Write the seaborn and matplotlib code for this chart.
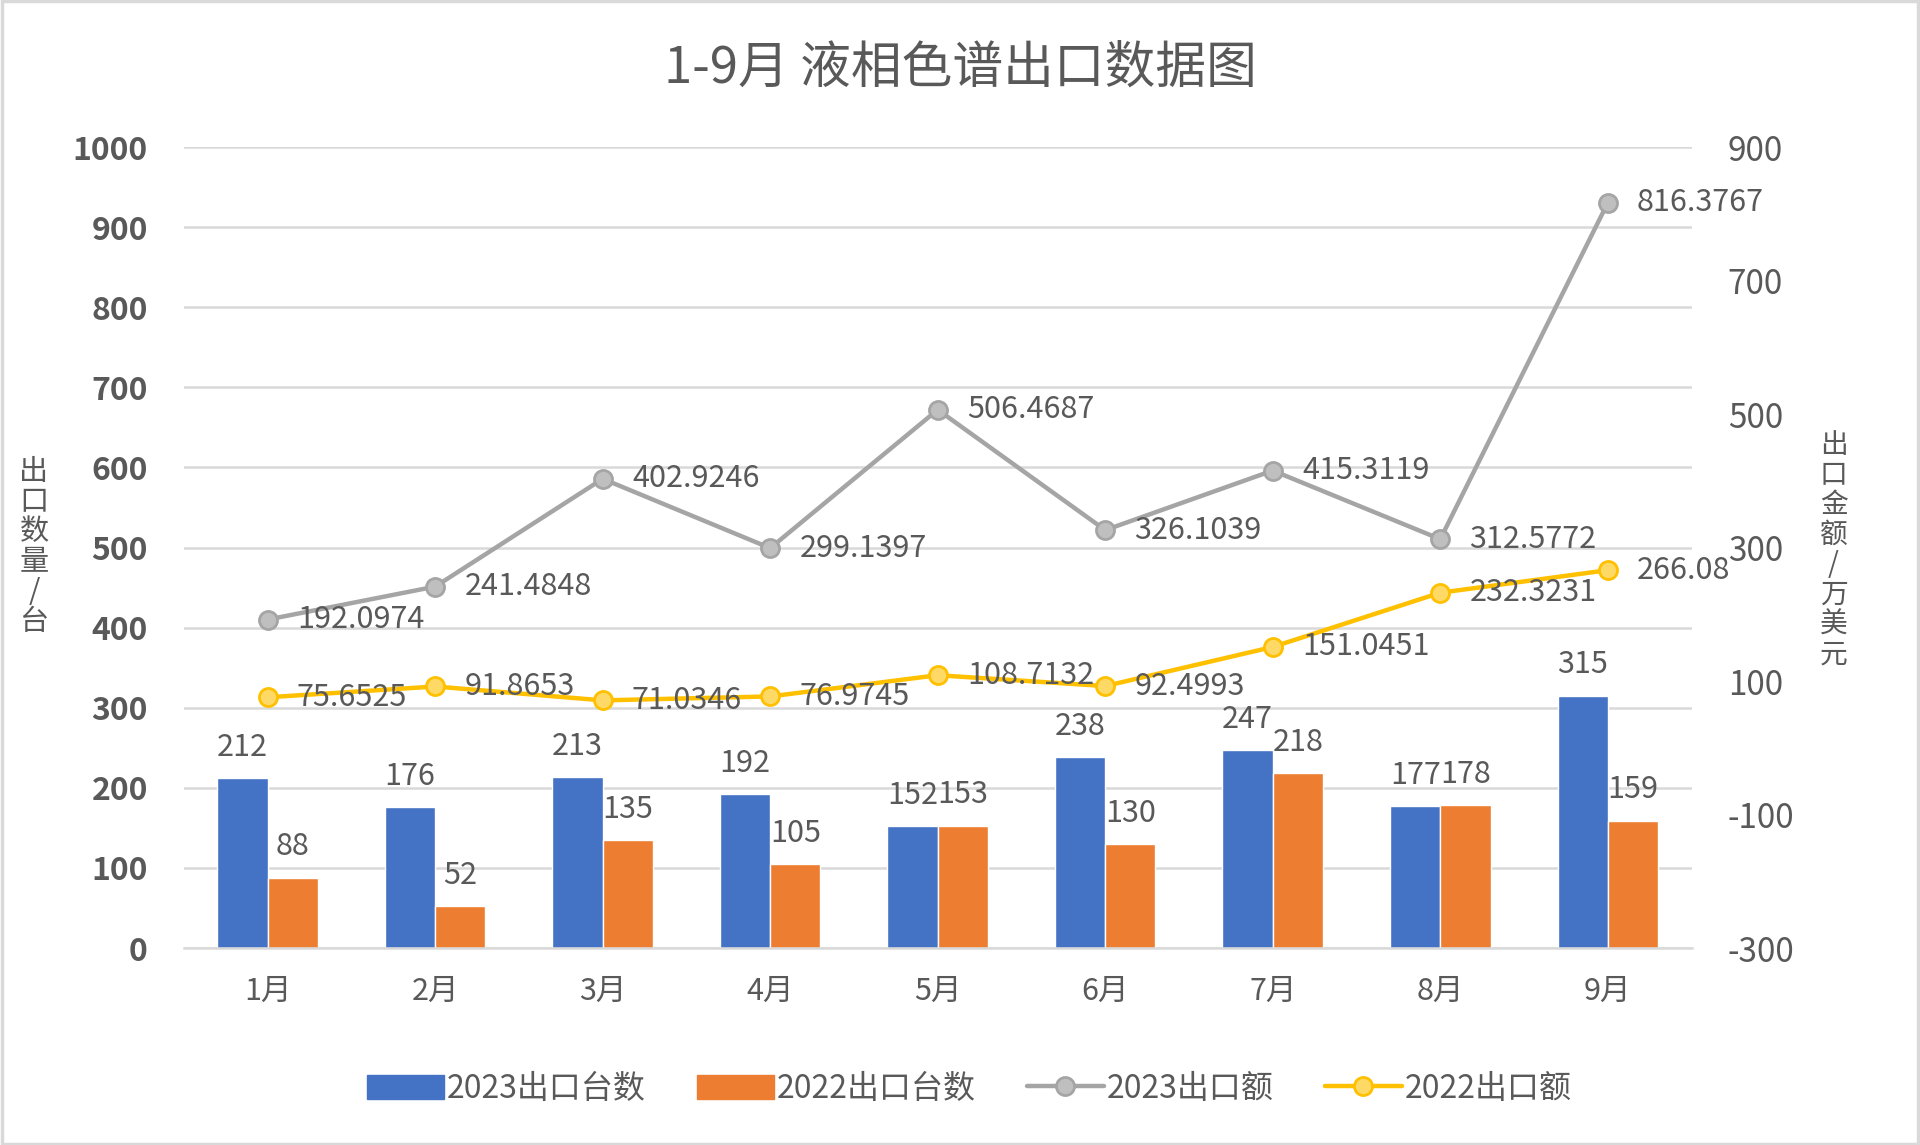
import matplotlib
matplotlib.use("Agg")
import matplotlib.pyplot as plt
import seaborn as sns
import pandas as pd
import numpy as np
from matplotlib.patches import Rectangle

months = ["1月", "2月", "3月", "4月", "5月", "6月", "7月", "8月", "9月"]
units_2023 = [212, 176, 213, 192, 152, 238, 247, 177, 315]
units_2022 = [88, 52, 135, 105, 153, 130, 218, 178, 159]
value_2023 = [192.0974, 241.4848, 402.9246, 299.1397, 506.4687, 326.1039, 415.3119, 312.5772, 816.3767]
value_2022 = [75.6525, 91.8653, 71.0346, 76.9745, 108.7132, 92.4993, 151.0451, 232.3231, 266.08]
label_values_2022 = ["75.6525", "91.8653", "71.0346", "76.9745", "108.7132", "92.4993", "151.0451", "232.3231", "266.08"]
label_values_2023 = ["192.0974", "241.4848", "402.9246", "299.1397", "506.4687", "326.1039", "415.3119", "312.5772", "816.3767"]

left_ticks = list(range(0, 1001, 100))
right_ticks = [-300, -100, 100, 300, 500, 700, 900]

sns.set_theme(style="white")
plt.rcParams['font.family'] = ['Noto Sans CJK SC', 'DejaVu Sans']
plt.rcParams['axes.unicode_minus'] = False

TXT = "#595959"
BLUE = "#4472C4"
ORANGE = "#ED7D31"
GRAY = "#A5A5A5"
YELLOW = "#FFC000"
GRID = "#D9D9D9"

fig = plt.figure(figsize=(19.2, 11.45), dpi=100)
ax = fig.add_axes([0.0958, 0.172, 0.7852, 0.6996])

bar_df = pd.DataFrame({
    "month": months * 2,
    "count": units_2023 + units_2022,
    "series": ["2023出口台数"] * len(months) + ["2022出口台数"] * len(months),
})
sns.barplot(data=bar_df, x="month", y="count", hue="series", order=months,
            hue_order=["2023出口台数", "2022出口台数"],
            palette=[BLUE, ORANGE], width=0.6, saturation=1, ax=ax, legend=False)

ax.set_ylim(0, 1000)
ax.set_xlim(-0.5, 8.5)
ax.set_yticks(left_ticks)
ax.yaxis.grid(True, color=GRID, linewidth=1.8)
ax.set_axisbelow(True)
for s in ["top", "right", "left"]:
    ax.spines[s].set_visible(False)
ax.spines["bottom"].set_color(GRID)
ax.spines["bottom"].set_linewidth(1.8)
ax.set_xlabel("")
ax.set_ylabel("")
ax.tick_params(axis="y", length=0, pad=26, labelsize=23, labelcolor=TXT)
ax.tick_params(axis="x", length=0, pad=20, labelsize=22, labelcolor=TXT)
for t in ax.get_yticklabels():
    t.set_fontweight("bold")

# bar labels
for cont, vals in zip(ax.containers, [units_2023, units_2022]):
    for rect, v in zip(cont, vals):
        ax.annotate(str(v), (rect.get_x() + rect.get_width() / 2, rect.get_height()),
                    xytext=(0, 11), textcoords="offset points", ha="center", va="bottom",
                    fontsize=22, color=TXT)

ax2 = ax.twinx()
line_df = pd.DataFrame({"x": np.arange(len(months)), "v23": value_2023, "v22": value_2022})
sns.lineplot(data=line_df, x="x", y="v23", ax=ax2, color=GRAY, linewidth=3.2,
             marker="o", markersize=13, markerfacecolor="#BFBFBF", markeredgecolor=GRAY,
             markeredgewidth=2, label="2023出口额", legend=False)
sns.lineplot(data=line_df, x="x", y="v22", ax=ax2, color=YELLOW, linewidth=3.2,
             marker="o", markersize=13, markerfacecolor="#FFD966", markeredgecolor=YELLOW,
             markeredgewidth=2, label="2022出口额", legend=False)
ax2.set_ylim(-300, 900)
ax2.set_xlim(-0.5, 8.5)
ax2.set_yticks(right_ticks)
ax2.tick_params(axis="y", length=0, pad=26, labelsize=24, labelcolor=TXT)
ax2.set_ylabel("")
for s in ["top", "right", "left", "bottom"]:
    ax2.spines[s].set_visible(False)
ax2.grid(False)

for i, (v, lab) in enumerate(zip(value_2023, label_values_2023)):
    ax2.annotate(lab, (i, v), xytext=(21, 0), textcoords="offset points",
                 ha="left", va="center", fontsize=22, color=TXT)
for i, (v, lab) in enumerate(zip(value_2022, label_values_2022)):
    ax2.annotate(lab, (i, v), xytext=(21, 0), textcoords="offset points",
                 ha="left", va="center", fontsize=22, color=TXT)

# title
fig.text(0.5, 0.94, "1-9月 液相色谱出口数据图", ha="center", va="center",
         fontsize=36.5, color=TXT)

# axis titles stacked vertically
fig.text(0.0177, 0.522, "\n".join("出口数量/台"), ha="center", va="center",
         fontsize=21, color=TXT, linespacing=1.0)
fig.text(0.955, 0.52, "\n".join("出口金额/万美元"), ha="center", va="center",
         fontsize=20, color=TXT, linespacing=1.0)

# legend
h1 = Rectangle((0, 0), 1, 1, facecolor=BLUE, edgecolor=BLUE)
h2 = Rectangle((0, 0), 1, 1, facecolor=ORANGE, edgecolor=ORANGE)
l1 = ax2.lines[0]
l2 = ax2.lines[1]
fig.legend([h1, h2, l1, l2], ["2023出口台数", "2022出口台数", "2023出口额", "2022出口额"],
           loc="center", bbox_to_anchor=(0.505, 0.049), ncol=4, frameon=False,
           fontsize=23, labelcolor=TXT, handlelength=2.4, handleheight=0.8,
           handletextpad=0.1, columnspacing=1.6)

# figure border
fig.patches.append(Rectangle((0.001, 0.001), 0.998, 0.998, transform=fig.transFigure,
                             fill=False, edgecolor=GRID, linewidth=2.5))

fig.savefig("out.png", dpi=100, facecolor="white")
